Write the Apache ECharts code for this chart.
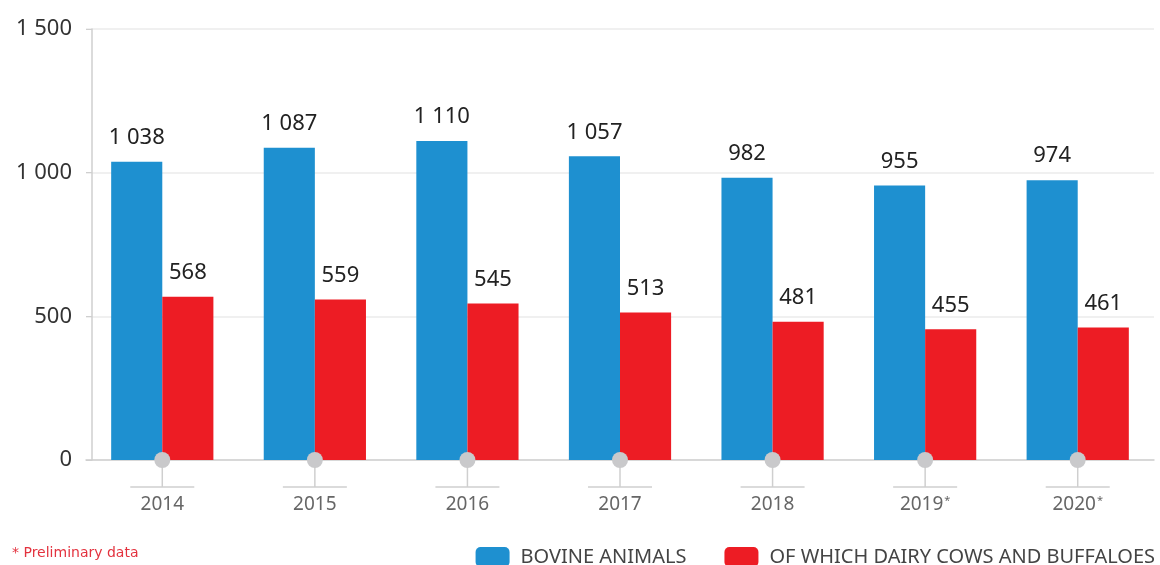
<!DOCTYPE html>
<html>
<head>
<meta charset="utf-8">
<script src="https://cdn.jsdelivr.net/npm/echarts@6/dist/echarts.min.js"></script>
<style>
  html, body { margin: 0; padding: 0; background: #fff; }
  #chart { width: 1160px; height: 565px; }
</style>
</head>
<body>
<div id="chart"></div>
<script>
var years = ['2014', '2015', '2016', '2017', '2018', '2019*', '2020*']
var bovine = [1038, 1087, 1110, 1057, 982, 955, 974]
var dairy = [568, 559, 545, 513, 481, 455, 461]
var yTicks = [0, 500, 1000, 1500]

var FONT = '"Noto Sans", sans-serif'

function fmt(v) {
  // space as thousands separator, e.g. 1 038
  return String(v).replace(/\B(?=(\d{3})+(?!\d))/g, ' ')
}

var chart = echarts.init(document.getElementById('chart'), null, { renderer: 'canvas' })

chart.setOption({
  animation: false,
  textStyle: { fontFamily: FONT },
  grid: { left: 86, right: 6, top: 29, bottom: 105, containLabel: false },
  legend: {
    data: ['BOVINE ANIMALS', 'OF WHICH DAIRY COWS AND BUFFALOES'],
    right: 0,
    top: 542,
    itemWidth: 34,
    itemHeight: 20,
    itemGap: 38,
    icon: 'roundRect',
    textStyle: { fontSize: 20, color: '#444', fontFamily: FONT, padding: [0, 0, 0, 6] }
  },
  graphic: [{
    type: 'text',
    left: 12,
    top: 546,
    style: {
      text: '* Preliminary data',
      fill: '#e3323e',
      fontSize: 14,
      fontFamily: '"DejaVu Sans", sans-serif'
    }
  }],
  xAxis: {
    type: 'category',
    data: years,
    axisLine: { lineStyle: { color: '#cfcfcf', width: 1.5 } },
    axisTick: { show: false },
    axisLabel: {
      margin: 35,
      fontSize: 19,
      color: '#666',
      formatter: function (v) {
        return v.indexOf('*') > -1 ? v.replace('*', '') + '{sup|*}' : v
      },
      rich: {
        sup: { fontSize: 11, color: '#666', padding: [0, 0, 8, 1] }
      }
    }
  },
  yAxis: {
    type: 'value',
    min: yTicks[0],
    max: yTicks[yTicks.length - 1],
    interval: 500,
    offset: -6,
    axisLine: { show: true, lineStyle: { color: '#cfcfcf', width: 1.5 } },
    axisTick: { show: true, length: 6, lineStyle: { color: '#cfcfcf' } },
    axisLabel: {
      margin: 20,
      fontSize: 22,
      color: '#333',
      formatter: function (v) { return fmt(v) }
    },
    splitLine: { lineStyle: { color: '#ebebeb', width: 1.5 } }
  },
  series: [
    {
      name: 'BOVINE ANIMALS',
      type: 'bar',
      data: bovine,
      barGap: '0%',
      barCategoryGap: '33%',
      itemStyle: { color: '#1e90d0' },
      label: {
        show: true,
        position: 'top',
        distance: 13,
        fontSize: 22,
        color: '#222',
        formatter: function (p) { return fmt(p.value) }
      }
    },
    {
      name: 'OF WHICH DAIRY COWS AND BUFFALOES',
      type: 'bar',
      data: dairy,
      itemStyle: { color: '#ed1c24' },
      label: {
        show: true,
        position: 'top',
        distance: 13,
        fontSize: 22,
        color: '#222',
        formatter: function (p) { return fmt(p.value) }
      }
    },
    {
      // the grey knob + bracket under every category
      type: 'custom',
      silent: true,
      clip: false,
      z: 5,
      data: years.map(function (y, i) { return [i, 0] }),
      renderItem: function (params, api) {
        var pt = api.coord([api.value(0), 0])
        var x = pt[0], y = pt[1]
        var stroke = { stroke: '#cfcfcf', lineWidth: 1.5 }
        return {
          type: 'group',
          children: [
            { type: 'line', shape: { x1: x, y1: y, x2: x, y2: y + 27 }, style: stroke },
            { type: 'line', shape: { x1: x - 32, y1: y + 27, x2: x + 32, y2: y + 27 }, style: stroke },
            { type: 'circle', shape: { cx: x, cy: y, r: 8 }, style: { fill: '#c9c9cb' } }
          ]
        }
      }
    }
  ]
})
</script>
</body>
</html>
